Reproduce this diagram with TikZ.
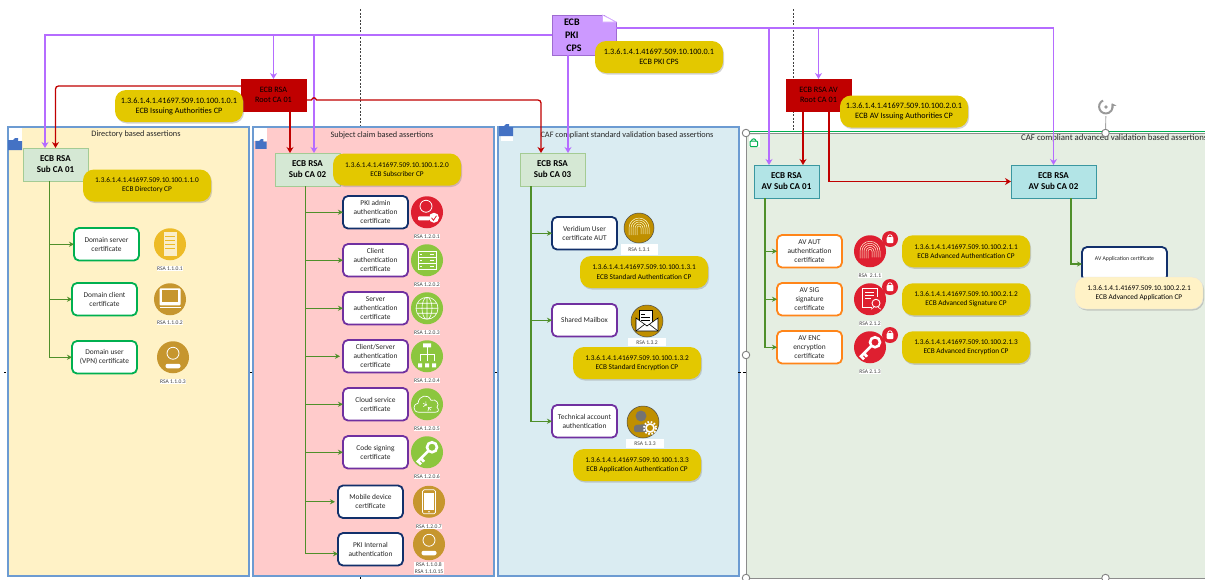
\documentclass[tikz,border=0pt]{standalone}
\usepackage{fontspec}
\setmainfont{Carlito}
\usetikzlibrary{arrows.meta, positioning, calc, shadows}
\definecolor{dirfill}{HTML}{FFF2C6}
\definecolor{subjfill}{HTML}{FFCBCB}
\definecolor{caffill}{HTML}{DAECF2}
\definecolor{avfill}{HTML}{E5EEE2}
\definecolor{panelline}{HTML}{6C9BD2}
\definecolor{oidgold}{HTML}{E3C800}
\definecolor{subfill}{HTML}{D5E8D4}
\definecolor{subline}{HTML}{A4CB94}
\definecolor{avsub}{HTML}{B2E4E6}
\definecolor{avline}{HTML}{3A97A0}
\definecolor{rootred}{HTML}{C00000}
\definecolor{pkilila}{HTML}{CC99FF}
\definecolor{pkiline}{HTML}{B56CFF}
\definecolor{certgreen}{HTML}{00B050}
\definecolor{certpurple}{HTML}{7030A0}
\definecolor{certnavy}{HTML}{12306B}
\definecolor{certorange}{HTML}{FF8519}
\definecolor{treegreen}{HTML}{4F8F2A}
\definecolor{icongold}{HTML}{C6962E}
\definecolor{iconamber}{HTML}{EDBB27}
\definecolor{iconlime}{HTML}{8CC63E}
\definecolor{iconred}{HTML}{DE1F30}
\definecolor{icondark}{HTML}{BF8F00}
\definecolor{foldblue}{HTML}{4472C4}
\begin{document}
\begin{tikzpicture}[
  x=1pt, y=-1pt,
  panel/.style={draw=panelline, line width=1.5pt, minimum height=449pt, minimum width=241pt,
                anchor=north west, outer sep=0pt},
  paneltitle/.style={font=\fontsize{8.3}{10}\selectfont, text=black!85, inner sep=0pt},
  subca/.style={draw=subline, fill=subfill, line width=1pt, minimum width=65pt, minimum height=33pt,
                anchor=north west, align=center, outer sep=0pt, font=\bfseries\fontsize{9}{11}\selectfont},
  avca/.style={subca, draw=avline, fill=avsub},
  rootca/.style={draw=rootred, fill=rootred, minimum width=65pt, minimum height=32pt, anchor=north west,
                 align=center, outer sep=0pt, font=\fontsize{8.2}{10}\selectfont, text=black},
  oid/.style={fill=oidgold, rounded corners=11pt, minimum width=128pt, minimum height=32pt, align=center,
              anchor=north west, inner sep=0pt, outer sep=0pt, font=\fontsize{7.3}{9.2}\selectfont,
              drop shadow={shadow xshift=1pt, shadow yshift=-1.5pt, opacity=.35}},
  oidbig/.style={oid, font=\fontsize{8.2}{10}\selectfont},
  cert/.style={draw=certpurple, fill=white, line width=1.8pt, rounded corners=5pt, minimum width=65pt,
               minimum height=32.5pt, align=center, inner sep=0pt, outer sep=0pt, anchor=north west,
               font=\fontsize{7.4}{9}\selectfont, text=black!85},
  icon/.style={circle, minimum size=32pt, inner sep=0pt, outer sep=0pt},
  rsa/.style={fill=white, inner sep=.6pt, align=center, text=black!75, font=\fontsize{5.6}{6.4}\selectfont},
  badge/.style={circle, fill=iconred, minimum size=16pt, inner sep=0pt},
  handle/.style={circle, draw=black!50, fill=white, line width=.9pt, minimum size=7.5pt, inner sep=0pt},
  treearr/.style={-{Stealth[length=5pt, width=5pt]}, draw=treegreen, line width=1.2pt},
  rootarr/.style={-{Stealth[length=6pt, width=7pt]}, draw=rootred, line width=1.3pt},
  pkiarr/.style={-{Stealth[length=6pt, width=7pt]}, draw=pkiline, line width=1.4pt},
  iconrack/.pic={\fill[white!75!iconamber] (-6.5,-12) rectangle (6.5,12);
    \foreach \yy in {-8,-4,0,4} \draw[iconamber, line width=.8pt] (-5,\yy) -- (5,\yy);},
  iconmon/.pic={\fill[white, rounded corners=1pt] (-10.5,-11) rectangle (10.5,6);
    \fill[icongold] (-8,-9) rectangle (8,3);
    \fill[white] (-10.5,7.5) rectangle (10.5,9);},
  iconuser/.pic={\draw[white, line width=.8pt] (0,-4) circle (6);
    \fill[white, rounded corners=2pt] (-7.5,6.5) rectangle (7.5,11);},
  iconadmin/.pic={\draw[white, line width=.8pt] (-1,-6) circle (6);
    \fill[white, rounded corners=1pt] (-9,4) rectangle (3,8);
    \fill[white] (7,5.5) circle (5);
    \draw[iconred, line width=.8pt] (4.5,5.5) -- (6.5,8) -- (9.5,3.5);},
  iconrows/.pic={\draw[white, line width=.6pt] (-9,-9) rectangle (9,9) (-9,-3) -- (9,-3) (-9,3) -- (9,3);
    \foreach \yy in {-6,0,6} \draw[white, line width=.6pt] (3,\yy) -- (7,\yy) (-7,\yy) -- (-5,\yy);},
  iconglobe/.pic={\draw[white, line width=.6pt] (0,0) circle (11) (0,0) ellipse (5 and 11) (0,-11) -- (0,11)
    (-11,0) -- (11,0) (-9.5,-5) -- (9.5,-5) (-9.5,5) -- (9.5,5);},
  iconnet/.pic={\fill[white] (-4,-13) rectangle (4,-9) (-9,7) rectangle (-5,11) (-2,7) rectangle (2,11) (5,7) rectangle (9,11);
    \draw[white, line width=.8pt] (0,-9) -- (0,5) (-7,5) -- (-7,-2) -- (7,-2) -- (7,5);},
  iconcloud/.pic={\draw[white, line width=.7pt] (-8,8) .. controls (-15,8) and (-14,-1) .. (-9,-1)
    .. controls (-8,-9) and (1,-11) .. (4,-4) .. controls (9,-6) and (13,0) .. (10,3)
    .. controls (13,6) and (11,8) .. (8,8) -- cycle;
    \draw[white, line width=.6pt, ->] (-4,-1) -- (0,1);
    \draw[white, line width=.6pt, ->] (4,6) -- (1,3);},
  iconkey/.pic={\draw[white, line width=2.6pt] (5,-5) circle (5);
    \draw[white, line width=2.8pt] (1.5,-1.5) -- (-10,10) (-6,6) -- (-3,9.5) (-9,9) -- (-6,12);},
  iconphone/.pic={\draw[white, line width=.7pt, rounded corners=1.5pt] (-6.5,-12) rectangle (6.5,12);
    \fill[white] (-5,-9) rectangle (5,8);
    \fill[white] (0,10) circle (.8);},
  iconprint/.pic={\foreach \rr in {2,4,...,10} \draw[white!85!yellow, line width=.5pt] (-\rr,7) -- (-\rr,0) arc (180:360:\rr) -- (\rr,6);},
  iconmail/.pic={\fill[white, draw=black, line width=.4pt] (-8,-11) rectangle (5,4);
    \draw[black, line width=.4pt] (-6,-7) -- (-2,-7) (-6,-4) -- (3,-4) (-6,-1) -- (3,-1);
    \fill[white, draw=black, line width=.6pt] (-11,-3) -- (0,5) -- (11,-3) -- (11,10) -- (-11,10) -- cycle;
    \draw[black, line width=.6pt] (-11,10) -- (-2,3) (11,10) -- (2,3);},
  icongear/.pic={\fill[black!55] (-2,-6) circle (5.5);
    \fill[black!55, rounded corners=2pt] (-9,10) -- (-9,3) -- (5,2) -- (5,10) -- cycle;
    \draw[white, line width=2pt, dash pattern=on 1.6pt off 1.6pt] (7,6) circle (6);
    \draw[white, line width=1.5pt, fill=icondark] (7,6) circle (4);},
  iconcert/.pic={\draw[white, line width=.8pt] (2,8) -- (-8,8) -- (-8,-11) -- (7,-11) -- (7,-2);
    \draw[white, line width=.7pt] (-5,-7) -- (4,-7) (-5,-4) -- (4,-4) (-5,-1) -- (1,-1);
    \draw[white, line width=.9pt] (6,4) circle (4);
    \draw[white, line width=.6pt] (1,10) -- (4,8) (11,10) -- (8,8);},
  iconlock/.pic={\draw[white, line width=.8pt] (-2.2,-2) arc (180:360:2.2);
    \fill[white, rounded corners=.8pt] (-3.3,-2) rectangle (3.3,4);},
  iconfold/.pic={\fill[foldblue] (-7,-4) -- (-2,-4) -- (0,-6) -- (3,-6) -- (3,-3) -- (7,-3) -- (7,6) -- (-7,6) -- cycle;}
]
  \useasboundingbox (0,0) rectangle (1205,579);

  % Panels
  \node[panel, fill=dirfill] (dirpanel) at (8,127) {};
  \node[panel, fill=subjfill] (subjpanel) at (253,127) {};
  \node[panel, fill=caffill] (stdpanel) at (498,127) {};
  \node[panel, draw=black!45, line width=.7pt, fill=avfill, minimum width=459pt, minimum height=445pt] (avpanel) at (746,133) {};
  \draw[certgreen, line width=1pt] (749,131) -- (1205,131);

  % Guides
  \draw[black!75, dash pattern=on 2pt off 1.5pt, line width=.6pt] (360,9) -- (360,126);
  \draw[black!75, dash pattern=on 2pt off 1.5pt, line width=.6pt] (793,9) -- (793,130);
  \draw[black, line width=.5pt] (360,577) -- (360,579);
  \foreach \xa/\xb in {4/6, 250/252, 495/497, 738/741, 743/746}
    \draw[black, line width=.5pt] (\xa,372) -- (\xb,372);

  % Panel corners
  \fill[white] (9,128) rectangle (22,141);
  \fill[white] (254,128) rectangle (267,141);
  \fill[white] (501,135) rectangle (513,141);
  \fill[white] (749,135) rectangle (760,147);
  \pic at (15,144) {iconfold};
  \pic[scale=.8] at (261,144) {iconfold};
  \pic at (506,130) {iconfold};
  \draw[certgreen, line width=1pt, rounded corners=.8pt] (750,141) rectangle (757.5,146.5);
  \draw[certgreen, line width=1pt] (751.5,141) arc (180:360:2.2);

  % Panel titles
  \node[paneltitle] (dirtitle) at (136,134) {Directory based assertions};
  \node[paneltitle] (subjtitle) at (382,135) {Subject claim based assertions};
  \node[paneltitle] (stdtitle) at (627,135) {CAF compliant standard validation based assertions};
  \node[paneltitle, anchor=west, font=\fontsize{8.8}{10}\selectfont] (avtitle) at (1021,138) {CAF compliant advanced validation based assertions};

  % CPS document
  \node[draw=pkiline!70!black!60!pkilila, fill=pkilila, minimum width=64pt, minimum height=40pt, align=center,
        inner sep=0pt, outer sep=0pt, font=\bfseries\fontsize{10}{13}\selectfont] (cps) at (584,35)
        {\hspace*{-20pt}ECB\\\hspace*{-20pt}PKI\\\hspace*{-20pt}CPS};
  \fill[white] ([xshift=-13.5pt,yshift=1pt]cps.north east) -- ([xshift=1pt,yshift=1pt]cps.north east) -- ([xshift=1pt,yshift=-7pt]cps.north east) -- cycle;
  \draw[pkiline!60, fill=white, line width=.6pt] ([xshift=-13.5pt]cps.north east) -- ([yshift=-7pt]cps.north east) -- ([xshift=-13.5pt,yshift=-7pt]cps.north east) -- cycle;

  % Root CAs
  \node[rootca] (root1) at (241,79) {ECB RSA\\Root CA 01};
  \node[rootca] (root2) at (786,79) {ECB RSA AV\\Root CA 01};

  % Sub CAs
  \node[subca] (sub1) at (23,148) {ECB RSA\\Sub CA 01};
  \node[subca] (sub2) at (275,153) {ECB RSA\\Sub CA 02};
  \node[subca] (sub3) at (520,153) {ECB RSA\\Sub CA 03};
  \node[avca] (avsub1) at (754,165) {ECB RSA\\AV Sub CA 01};
  \node[avca, minimum width=85pt] (avsub2) at (1011,165) {ECB RSA\\AV Sub CA 02};

  % Directory certificates
  \node[cert, draw=certgreen] (dserver) at (74,228) {Domain server\\certificate};
  \node[cert, draw=certgreen] (dclient) at (72,283) {Domain client\\certificate};
  \node[cert, draw=certgreen] (duser) at (72,341) {Domain user\\(VPN) certificate};
  \node[icon, fill=iconamber, right=15pt of dserver] (icserver) {};
  \node[icon, fill=icongold, right=17pt of dclient] (icclient) {};
  \node[icon, fill=icongold, right=20pt of duser] (icuser) {};
  \node[rsa, below=6pt of icserver] (rsaserver) {RSA 1.1.0.1};
  \node[rsa, below=5pt of icclient] (rsaclient) {RSA 1.1.0.2};
  \node[rsa, below=6pt of icuser] (rsauser) {RSA 1.1.0.3};
  \pic at (icserver) {iconrack};
  \pic at (icclient) {iconmon};
  \pic at (icuser) {iconuser};

  % Subject claim certificates
  \node[cert, draw=certnavy] (pkiadm) at (343,196) {PKI admin\\authentication\\certificate};
  \node[cert, below=15.5pt of pkiadm] (clauth) {Client\\authentication\\certificate};
  \node[cert, below=15.5pt of clauth] (srvauth) {Server\\authentication\\certificate};
  \node[cert, below=15.5pt of srvauth] (clsrv) {Client/Server\\authentication\\certificate};
  \node[cert, below=15.5pt of clsrv] (cloud) {Cloud service\\certificate};
  \node[cert, below=15.5pt of cloud] (codesign) {Code signing\\certificate};
  \node[cert, draw=certnavy] (mobile) at (338,485.5) {Mobile device\\certificate};
  \node[cert, draw=certnavy] (pkiint) at (338,533) {PKI Internal\\authentication};
  \node[icon, fill=iconred, right=3pt of pkiadm] (icadm) {};
  \node[icon, fill=iconlime, right=3pt of clauth] (icclauth) {};
  \node[icon, fill=iconlime, right=3pt of srvauth] (icsrv) {};
  \node[icon, fill=iconlime, right=3pt of clsrv] (icnet) {};
  \node[icon, fill=iconlime, right=3pt of cloud] (iccloud) {};
  \node[icon, fill=iconlime, right=3pt of codesign] (ickey) {};
  \node[icon, fill=icongold, right=10pt of mobile] (icmob) {};
  \node[icon, fill=icongold, right=10pt of pkiint, yshift=5pt] (icint) {};
  \node[rsa, below=6pt of icadm] (rsaadm) {RSA 1.2.0.1};
  \node[rsa, below=6pt of icclauth] (rsaclauth) {RSA 1.2.0.2};
  \node[rsa, below=6pt of icsrv] (rsasrv) {RSA 1.2.0.3};
  \node[rsa, below=6pt of icnet] (rsanet) {RSA 1.2.0.4};
  \node[rsa, below=6pt of iccloud] (rsacloud) {RSA 1.2.0.5};
  \node[rsa, below=6pt of ickey] (rsakey) {RSA 1.2.0.6};
  \node[rsa, below=6pt of icmob] (rsamob) {RSA 1.2.0.7};
  \node[rsa, below=2pt of icint] (rsaint) {RSA 1.1.0.8\\RSA 1.1.0.15};
  \pic at (icadm) {iconadmin};
  \pic at (icclauth) {iconrows};
  \pic at (icsrv) {iconglobe};
  \pic at (icnet) {iconnet};
  \pic at (iccloud) {iconcloud};
  \pic at (ickey) {iconkey};
  \pic at (icmob) {iconphone};
  \pic at (icint) {iconuser};

  % Standard validation certificates
  \node[cert, draw=certnavy] (veridium) at (552,217) {Veridium User\\certificate AUT};
  \node[cert] (mailbox) at (552,304) {Shared Mailbox};
  \node[cert] (techacc) at (552,405) {Technical account\\authentication};
  \node[icon, fill=icondark, draw=black!70, minimum size=30pt, line width=.5pt] (icveri) at (639,228) {};
  \node[icon, fill=icondark, draw=black!70, line width=.5pt] (icmail) at (647,321) {};
  \node[icon, fill=icondark, draw=black!70, line width=.5pt] (ictech) at (643,422) {};
  \node[rsa, minimum width=37pt, minimum height=11pt, below=1pt of icveri] (rsaveri) {RSA 1.3.1};
  \node[rsa, minimum width=38pt, minimum height=8pt, below=1pt of icmail] (rsamail) {RSA 1.3.2};
  \node[rsa, minimum width=38pt, minimum height=9pt, below=1pt of ictech, xshift=2pt] (rsatech) {RSA 1.3.3};
  \pic at (icveri) {iconprint};
  \pic at (icmail) {iconmail};
  \pic at (ictech) {icongear};

  % Advanced validation certificates
  \node[cert, draw=certorange] (avaut) at (777,235) {AV AUT\\authentication\\certificate};
  \node[cert, draw=certorange, below=15.5pt of avaut] (avsig) {AV SIG\\signature\\certificate};
  \node[cert, draw=certorange, below=15.5pt of avsig] (avenc) {AV ENC\\encryption\\certificate};
  \node[cert, draw=certnavy, minimum width=85pt, minimum height=34pt, font=\fontsize{5.8}{7}\selectfont] (avapp) at (1082,247) {AV Application certificate\\[4pt]\mbox{}};
  \node[icon, fill=iconred, right=12pt of avaut] (icaut) {};
  \node[icon, fill=iconred, right=12pt of avsig] (icsig) {};
  \node[icon, fill=iconred, right=12pt of avenc] (icenc) {};
  \node[badge] (lockaut) at (890,239) {};
  \node[badge] (locksig) at (890,287) {};
  \node[badge] (lockenc) at (890,335) {};
  \node[rsa, below=6pt of icaut] (rsaaut) {RSA\ \ 2.1.1};
  \node[rsa, below=6pt of icsig] (rsasig) {RSA 2.1.2};
  \node[rsa, below=6pt of icenc] (rsaenc) {RSA 2.1.3};
  \pic at (icaut) {iconprint};
  \pic at (icsig) {iconcert};
  \pic at (icenc) {iconkey};
  \pic at (lockaut) {iconlock};
  \pic at (locksig) {iconlock};
  \pic at (lockenc) {iconlock};

  % Anchor points on the CAs
  \coordinate (bus) at ([yshift=7pt]cps.east);
  \coordinate (pk1) at ([xshift=-10.5pt]sub1.north);
  \coordinate (pk2) at ([xshift=6.5pt]sub2.north);
  \coordinate (rt2) at ([xshift=-17.5pt]sub2.north);
  \coordinate (pk3) at ([xshift=15.5pt]sub3.north);
  \coordinate (rt3) at ([xshift=-11.5pt]sub3.north);
  \coordinate (pk4) at ([xshift=-17.5pt]avsub1.north);
  \coordinate (rt4) at ([xshift=16.5pt]avsub1.north);
  \coordinate (rj) at ([yshift=-5pt]root1.east);
  \coordinate (t1) at ([xshift=-6pt]sub1.south);
  \coordinate (t2) at ([xshift=-2pt]sub2.south);
  \coordinate (t3) at ([xshift=-21.5pt]sub3.south);
  \coordinate (t4) at ([xshift=-21.5pt]avsub1.south);
  \coordinate (t5) at ([xshift=17.5pt]avsub2.south);

  % Policy arrows
  \draw[pkiarr] (cps.west) -| (pk1);
  \draw[pkiarr] (root1.north |- cps.west) -- (root1.north);
  \draw[pkiarr] (pk2 |- cps.west) -- (pk2);
  \draw[pkiarr] (pk3 |- cps.south) -- (pk3);
  \draw[pkiarr] (bus) -| (avsub2.north);
  \draw[pkiarr] (pk4 |- bus) -- (pk4);
  \draw[pkiarr] (root2.north |- bus) -- (root2.north);

  % Root arrows
  \draw[rootarr, rounded corners=3pt] ([yshift=9pt]root1.west) -| (sub1.north);
  \draw[rootarr, line width=1.6pt] (rt2 |- root1.south) -- (rt2);
  \draw[rootarr] (rj) -- ++(5.5,0) .. controls +(1.5,-3) and +(-1.5,-3) .. ++(5,0) [rounded corners=3pt] -| (rt3);
  \draw[rootarr, line width=1.6pt] (rt4 |- root2.south) -- (rt4);
  \draw[rootarr] ([xshift=10.5pt]root2.south) |- (avsub2.west);

  % Tree arrows
  \draw[treearr] (t1) |- (dserver.west);
  \draw[treearr] (t1) |- (dclient.west);
  \draw[treearr] (t1) |- (duser.west);
  \draw[treearr] (t2) |- (pkiadm.west);
  \draw[treearr] (t2) |- (clauth.west);
  \draw[treearr] (t2) |- (srvauth.west);
  \draw[treearr] (t2) |- ([xshift=-3pt]clsrv.west);
  \draw[treearr] (t2) |- (cloud.west);
  \draw[treearr] (t2) |- (codesign.west);
  \draw[treearr] (t2) |- ([xshift=-3pt]mobile.west);
  \draw[treearr] (t2) |- ([yshift=-4.5pt]pkiint.west);
  \draw[treearr] (t3) |- (veridium.west);
  \draw[treearr] (t3) |- (mailbox.west);
  \draw[treearr] (t3) |- (techacc.west);
  \draw[treearr] (t4) |- (avaut.west);
  \draw[treearr] (t4) |- (avsig.west);
  \draw[treearr] (t4) |- (avenc.west);
  \draw[treearr] (t5) |- (avapp.west);

  % OID labels
  \node[oidbig] (oidpki) at (595,41) {1.3.6.1.4.1.41697.509.10.100.0.1\\ECB PKI CPS};
  \node[oidbig] (oidroot) at (115,90) {1.3.6.1.4.1.41697.509.10.100.1.0.1\\ECB Issuing Authorities CP};
  \node[oidbig] (oidavroot) at (840,95.5) {1.3.6.1.4.1.41697.509.10.100.2.0.1\\ECB AV Issuing Authorities CP};
  \node[oid] (oiddir) at (83,169.5) {1.3.6.1.4.1.41697.509.10.100.1.1.0\\ECB Directory CP};
  \node[oid] (oidsubj) at (333,153.5) {1.3.6.1.4.1.41697.509.10.100.1.2.0\\ECB Subscriber CP};
  \node[oid] (oidstdaut) at (580,256) {1.3.6.1.4.1.41697.509.10.100.1.3.1\\ECB Standard Authentication CP};
  \node[oid] (oidstdenc) at (573,347) {1.3.6.1.4.1.41697.509.10.100.1.3.2\\ECB Standard Encryption CP};
  \node[oid] (oidstdapp) at (573,449) {1.3.6.1.4.1.41697.509.10.100.1.3.3\\ECB Application Authentication CP};
  \node[oid, right=60pt of avaut.east, anchor=west] (oidavaut) {1.3.6.1.4.1.41697.509.10.100.2.1.1\\ECB Advanced Authentication CP};
  \node[oid, right=60pt of avsig.east, anchor=west] (oidavsig) {1.3.6.1.4.1.41697.509.10.100.2.1.2\\ECB Advanced Signature CP};
  \node[oid, right=60pt of avenc.east, anchor=west] (oidavenc) {1.3.6.1.4.1.41697.509.10.100.2.1.3\\ECB Advanced Encryption CP};
  \node[oid, fill=dirfill, draw=black!10] (oidavapp) at (1075,277) {1.3.6.1.4.1.41697.509.10.100.2.2.1\\ECB Advanced Application CP};

  % Selection handles
  \node[handle] (h1) at (746,133) {};
  \node[handle] (h2) at (746,355) {};
  \node[handle] (h3) at (746,578) {};
  \node[handle] (h4) at (1105.5,133) {};
  \node[handle] (h5) at (1105.5,578) {};
  \node[inner sep=0pt, minimum size=18pt] (rot) at (1106,107) {};
  \draw[black!35, line width=.9pt] (h4) -- (rot);
  \draw[black!40, line width=2pt, -{Stealth[length=4.5pt, width=6pt]}] (1103,100.5) arc (245:-30:6.8);
  \fill[black!40] (rot) circle (1.8);
\end{tikzpicture}
\end{document}
